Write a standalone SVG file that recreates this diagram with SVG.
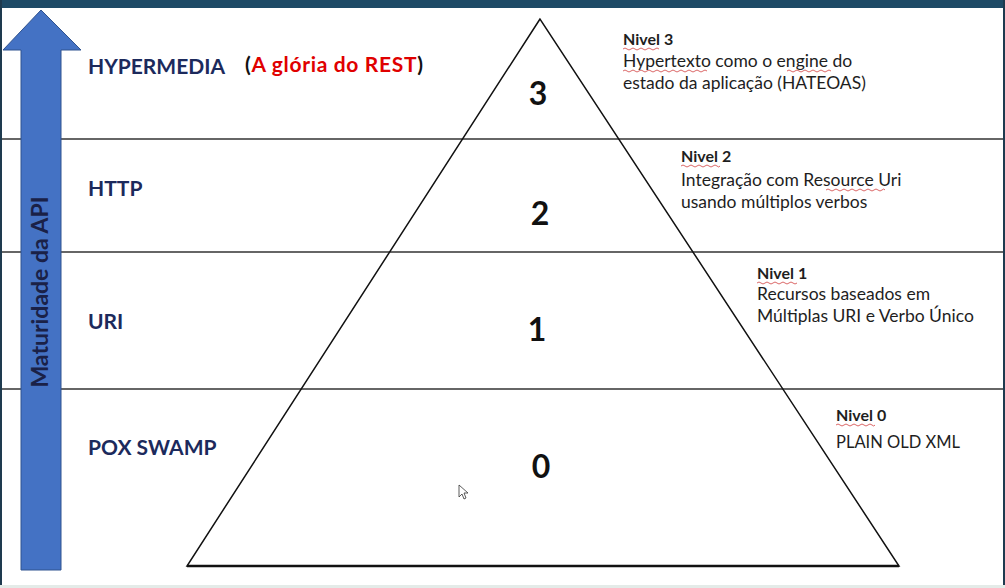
<svg xmlns="http://www.w3.org/2000/svg" width="1005" height="588" viewBox="0 0 1005 588">
<style>
.lbl{font-family:Lato,"Liberation Sans",sans-serif;font-weight:700;font-size:21px;fill:#1c2a5c}
.num{font-family:Lato,"Liberation Sans",sans-serif;font-weight:700;font-size:32px;fill:#111;text-anchor:middle}
.ttl{font-family:Lato,"Liberation Sans",sans-serif;font-weight:700;font-size:16px;fill:#1e1e1e}
.body{font-family:Lato,"Liberation Sans",sans-serif;font-size:17.5px;fill:#1e1e1e}
.sep{stroke:#333;stroke-width:1.5}
.sq{fill:none;stroke:#d04040;stroke-width:0.8}
</style>
<rect x="0" y="0" width="1005" height="588" fill="#fff"/>
<rect x="0" y="0" width="1005" height="8" fill="#1e4a66"/>
<rect x="0" y="0" width="2" height="588" fill="#1e3a4f"/>
<rect x="1003" y="0" width="2" height="588" fill="#1e3a4f"/>
<rect x="0" y="585" width="1005" height="3" fill="#e4ebe8"/>

<g id="separators">
<line class="sep" x1="2" y1="139" x2="1003" y2="139"/>
<line class="sep" x1="2" y1="252" x2="1003" y2="252"/>
<line class="sep" x1="2" y1="389" x2="1003" y2="389"/>
</g>

<g id="pyramid">
<polygon points="540,19 187,566 899,566" fill="none" stroke="#111" stroke-width="1.5" stroke-linejoin="miter"/>
<line x1="187" y1="566" x2="899" y2="566" stroke="#111" stroke-width="2.5"/>
</g>

<g id="arrow">
<polygon points="41,10 81,50 61,50 61,570 21,570 21,50 3,50" fill="#4472c4" stroke="#2f528f" stroke-width="1"/>
<text transform="translate(48,292) rotate(-90)" text-anchor="middle" style="font-family:Lato,'Liberation Sans',sans-serif;font-weight:700;font-size:23px;fill:#1a2147">Maturidade da API</text>
</g>

<g id="level3">
<text class="lbl" x="88" y="74">HYPERMEDIA</text>
<text x="245" y="72" textLength="178" style="font-family:Lato,'Liberation Sans',sans-serif;font-weight:700;font-size:21px;fill:#111">(<tspan fill="#e00000">A glória do REST</tspan>)</text>
<text class="num" x="538" y="105">3</text>
<text class="ttl" x="623" y="45">Nivel 3</text>
<text class="body" x="623" y="67">Hypertexto como o engine do</text>
<text class="body" x="623" y="89">estado da aplicação (HATEOAS)</text>
<path class="sq" d="M623,49 q2,-2 4,0 t4,0 t4,0 t4,0 t4,0 t4,0 t4,0 t4,0 t4,0"/>
<path class="sq" d="M623,71 q2,-2 4,0 t4,0 t4,0 t4,0 t4,0 t4,0 t4,0 t4,0 t4,0 t4,0 t4,0 t4,0 t4,0 t4,0 t4,0 t4,0 t4,0 t4,0 t4,0 t4,0 t4,0"/>
<path class="sq" d="M787,71 q2,-2 4,0 t4,0 t4,0 t4,0 t4,0 t4,0 t4,0 t4,0 t4,0 t4,0 t4,0"/>
</g>

<g id="level2">
<text class="lbl" x="88" y="196">HTTP</text>
<text class="num" x="540" y="225">2</text>
<text class="ttl" x="681" y="162">Nivel 2</text>
<text class="body" x="681" y="186">Integração com Resource Uri</text>
<text class="body" x="681" y="208">usando múltiplos verbos</text>
<path class="sq" d="M681,166 q2,-2 4,0 t4,0 t4,0 t4,0 t4,0 t4,0 t4,0 t4,0 t4,0 t3,0"/>
<path class="sq" d="M826,190 q2,-2 4,0 t4,0 t4,0 t4,0 t4,0 t4,0 t4,0 t4,0 t4,0 t4,0 t4,0 t4,0 t4,0 t4,0 t3,0"/>
</g>

<g id="level1">
<text class="lbl" x="88" y="329">URI</text>
<text class="num" x="537" y="341">1</text>
<text class="ttl" x="757" y="279">Nivel 1</text>
<text class="body" x="757" y="300">Recursos baseados em</text>
<text class="body" x="757" y="322">Múltiplas URI e Verbo Único</text>
<path class="sq" d="M757,283 q2,-2 4,0 t4,0 t4,0 t4,0 t4,0 t4,0 t4,0 t4,0 t4,0 t4,0"/>
</g>

<g id="level0">
<text class="lbl" x="88" y="455">POX SWAMP</text>
<text class="num" x="541" y="478">0</text>
<text class="ttl" x="836" y="421">Nivel 0</text>
<text class="body" x="836" y="448" style="font-size:16.5px">PLAIN OLD XML</text>
<path class="sq" d="M836,425 q2,-2 4,0 t4,0 t4,0 t4,0 t4,0 t4,0 t4,0 t4,0 t4,0 t3,0"/>
</g>

<g id="cursor">
<path d="M459,485 L459,497 L462,494 L464,499 L466,498 L464,493 L468,493 Z" fill="#fff" stroke="#333" stroke-width="0.8"/>
</g>
</svg>
